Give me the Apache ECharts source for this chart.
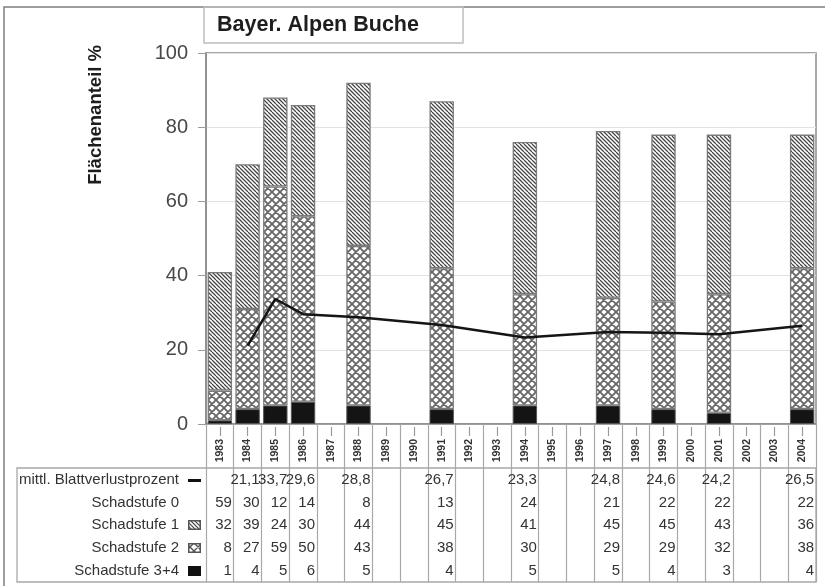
<!DOCTYPE html>
<html>
<head>
<meta charset="utf-8">
<title>Bayer. Alpen Buche</title>
<script src="https://cdn.jsdelivr.net/npm/echarts@6/dist/echarts.min.js"></script>
<style>
  html, body { margin: 0; padding: 0; background: #fff; }
  #chart { width: 825px; height: 586px; }
</style>
</head>
<body>
<div id="chart"></div>
<script>
// Survey years (columns of the data table and categories of the bars)
const years = ['1983','1984','1985','1986','1987','1988','1989','1990','1991','1992','1993',
               '1994','1995','1996','1997','1998','1999','2000','2001','2002','2003','2004'];

// Mean leaf loss in percent
const blattverlust = [null,21.1,33.7,29.6,null,28.8,null,null,26.7,null,null,23.3,null,null,24.8,null,24.6,null,24.2,null,null,26.5];
// Share of area per damage class, percent
const stufe0  = [59,30,12,14,null,8,null,null,13,null,null,24,null,null,21,null,22,null,22,null,null,22];
const stufe1  = [32,39,24,30,null,44,null,null,45,null,null,41,null,null,45,null,45,null,43,null,null,36];
const stufe2  = [8,27,59,50,null,43,null,null,38,null,null,30,null,null,29,null,29,null,32,null,null,38];
const stufe34 = [1,4,5,6,null,5,null,null,4,null,null,5,null,null,5,null,4,null,3,null,null,4];

const yTicks = [0, 20, 40, 60, 80, 100];

const FONT = '"Liberation Sans", Arial, sans-serif';

// ---- fill patterns -------------------------------------------------------
function makePattern(w, h, p, dirs, color, lw, border) {
  const c = document.createElement('canvas');
  c.width = w; c.height = h;
  const g = c.getContext('2d');
  g.fillStyle = '#fff';
  g.fillRect(0, 0, w, h);
  g.strokeStyle = color;
  g.lineWidth = lw;
  const s = Math.max(w, h);
  g.beginPath();
  if (dirs.indexOf('\\') >= 0) {
    for (let k = -2 * s; k <= 2 * s; k += p) { g.moveTo(k, 0); g.lineTo(k + s, s); }
  }
  if (dirs.indexOf('/') >= 0) {
    for (let k = -2 * s; k <= 3 * s; k += p) { g.moveTo(k, 0); g.lineTo(k - s, s); }
  }
  g.stroke();
  if (border) {
    g.strokeStyle = border; g.lineWidth = 1.5;
    g.strokeRect(0.75, 0.75, w - 1.5, h - 1.5);
  }
  return c;
}
function makeSolid(w, h, color) {
  const c = document.createElement('canvas');
  c.width = w; c.height = h;
  const g = c.getContext('2d');
  g.fillStyle = color; g.fillRect(0, 0, w, h);
  return c;
}

const hatchTile = makePattern(8, 8, 4, '\\', '#444', 1.25);
const crossTile = makePattern(8, 8, 8, '\\/', '#666', 1.8);
const hatchKey  = makePattern(13, 10, 4, '\\', '#474747', 1.2, '#555');
const crossKey  = makePattern(13, 10, 8, '\\/', '#555', 1.4, '#555');
const blackKey  = makeSolid(13, 10, '#111');
const lineKey   = makeSolid(13, 3, '#111');

// ---- table rows ---------------------------------------------------------
const fmt = v => (v == null ? '' : String(v).replace('.', ','));
const rows = [
  { label: 'mittl. Blattverlustprozent', key: 'kl', values: blattverlust, offset: 56 },
  { label: 'Schadstufe 0',               key: 'k0', values: stufe0,       offset: 79 },
  { label: 'Schadstufe 1',               key: 'k1', values: stufe1,       offset: 101 },
  { label: 'Schadstufe 2',               key: 'k2', values: stufe2,       offset: 124 },
  { label: 'Schadstufe 3+4',             key: 'k3', values: stufe34,      offset: 147 }
];

const nameRich = {
  t:  { fontSize: 15, color: '#333', fontFamily: FONT },
  g:  { width: 9 },
  k0: { width: 13, height: 10 },
  kl: { width: 13, height: 3, backgroundColor: { image: lineKey }, verticalAlign: 'middle' },
  k1: { width: 13, height: 10, backgroundColor: { image: hatchKey }, verticalAlign: 'middle' },
  k2: { width: 13, height: 10, backgroundColor: { image: crossKey }, verticalAlign: 'middle' },
  k3: { width: 13, height: 10, backgroundColor: { image: blackKey }, verticalAlign: 'middle' }
};

const rowAxes = rows.map(r => ({
  type: 'category',
  data: years,
  gridIndex: 0,
  position: 'bottom',
  offset: r.offset,
  axisLine: { show: false },
  axisTick: { show: false },
  splitLine: { show: false },
  axisPointer: { show: false },
  name: '{t|' + r.label + '}{g|}{' + r.key + '|}',
  nameLocation: 'start',
  nameGap: 5,
  nameTextStyle: { rich: nameRich, fontFamily: FONT, verticalAlign: 'middle' },
  axisLabel: {
    interval: 0,
    hideOverlap: false,
    margin: 0,
    verticalAlign: 'middle',
    formatter: (v, i) => '{v|' + fmt(r.values[i]) + '}',
    rich: { v: { width: 24, align: 'right', fontSize: 15, color: '#333', fontFamily: FONT } }
  }
}));

const chart = echarts.init(document.getElementById('chart'), null, { renderer: 'canvas' });

chart.setOption({
  backgroundColor: '#fff',
  animation: false,
  textStyle: { fontFamily: FONT },
  title: {
    text: 'Bayer. Alpen Buche',
    left: 204, top: 7,
    padding: [7, 44, 7, 13],
    borderColor: '#bdbdbd', borderWidth: 1.5,
    textStyle: { fontSize: 21.5, fontWeight: 'bold', color: '#1e1e1e', fontFamily: FONT, lineHeight: 22 }
  },
  grid: {
    left: 206, right: 9, top: 53, bottom: 162,
    show: true, borderColor: '#8a8a8a', borderWidth: 1.5,
    containLabel: false
  },
  xAxis: [
    {
      type: 'category',
      data: years,
      position: 'bottom',
      axisLine: { show: true, lineStyle: { color: '#8a8a8a', width: 1.5 } },
      axisTick: { show: true, interval: 0, alignWithLabel: false, length: 158,
                  lineStyle: { color: '#a8a8a8', width: 1.2 } },
      axisLabel: { interval: 0, hideOverlap: false, rotate: 90, margin: 15,
                   fontSize: 10.5, fontWeight: 'bold', color: '#333', fontFamily: FONT },
      splitLine: { show: false }
    },
    ...rowAxes,
    {
      type: 'category',
      data: years,
      position: 'bottom',
      offset: 3,
      axisLine: { show: false },
      axisLabel: { show: false },
      axisTick: { show: true, interval: 0, alignWithLabel: true, length: 9,
                  lineStyle: { color: '#9a9a9a', width: 1.2 } },
      splitLine: { show: false }
    }
  ],
  yAxis: {
    type: 'value',
    min: yTicks[0], max: yTicks[yTicks.length - 1], interval: 20,
    axisLine: { show: true, lineStyle: { color: '#8a8a8a', width: 1.5 } },
    axisTick: { show: true, length: 8, lineStyle: { color: '#9a9a9a' } },
    axisLabel: { fontSize: 20, color: '#474747', margin: 18, fontFamily: FONT },
    splitLine: { show: true, lineStyle: { color: '#e2e2e2', width: 1.2 } }
  },
  series: [
    {
      name: 'Schadstufe 3+4', type: 'bar', stack: 'flaeche', data: stufe34,
      barCategoryGap: '12%',
      itemStyle: { color: '#141414', borderColor: '#555', borderWidth: 1 }
    },
    {
      name: 'Schadstufe 2', type: 'bar', stack: 'flaeche', data: stufe2,
      barCategoryGap: '12%',
      itemStyle: { color: { image: crossTile, repeat: 'repeat' }, borderColor: '#7a7a7a', borderWidth: 1.3 }
    },
    {
      name: 'Schadstufe 1', type: 'bar', stack: 'flaeche', data: stufe1,
      barCategoryGap: '12%',
      itemStyle: { color: { image: hatchTile, repeat: 'repeat' }, borderColor: '#7a7a7a', borderWidth: 1.3 }
    },
    {
      name: 'mittl. Blattverlustprozent', type: 'line', data: blattverlust,
      connectNulls: true, symbol: 'none', z: 5,
      lineStyle: { color: '#151515', width: 2.5 }
    }
  ],
  graphic: [
    {
      type: 'text', left: 86, top: 45, rotation: Math.PI / 2,
      style: { text: 'Flächenanteil %', fontSize: 18.5, fontWeight: 'bold', fill: '#1e1e1e', fontFamily: FONT }
    },
    // outer frame of the figure
    { type: 'rect', shape: { x: 4, y: 7, width: 840, height: 600 }, z: -1,
      style: { fill: null, stroke: '#7d7d7d', lineWidth: 1.5 }, silent: true },
    // frame of the data table
    { type: 'rect', shape: { x: 17, y: 468, width: 799, height: 114 },
      style: { fill: null, stroke: '#a8a8a8', lineWidth: 1.3 }, silent: true }
  ]
});
</script>
</body>
</html>
